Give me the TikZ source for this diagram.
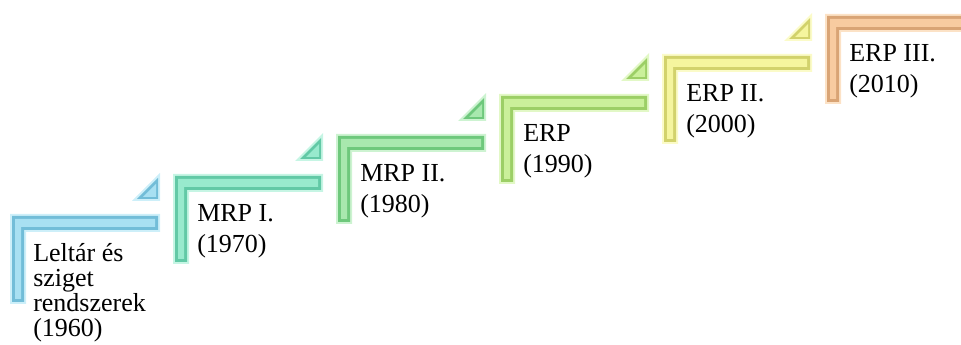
\documentclass[tikz,border=0pt]{standalone}
\usepackage{fontspec}
\setmainfont{Liberation Serif}
\definecolor{bluepale}{HTML}{CDEFF9}
\definecolor{bluedark}{HTML}{72BDD8}
\definecolor{bluebase}{HTML}{A8E0F2}
\definecolor{aquapale}{HTML}{C6F5E4}
\definecolor{aquadark}{HTML}{62C9A6}
\definecolor{aquabase}{HTML}{98EACD}
\definecolor{greenpale}{HTML}{CDF3D1}
\definecolor{greendark}{HTML}{6EC87C}
\definecolor{greenbase}{HTML}{A8E8AE}
\definecolor{limepale}{HTML}{E2F8C6}
\definecolor{limedark}{HTML}{9CCF66}
\definecolor{limebase}{HTML}{CAF09A}
\definecolor{yellowpale}{HTML}{FBFBC8}
\definecolor{yellowdark}{HTML}{D2D26C}
\definecolor{yellowbase}{HTML}{F5F59E}
\definecolor{orangepale}{HTML}{FCE2C6}
\definecolor{orangedark}{HTML}{D9A475}
\definecolor{orangebase}{HTML}{F8CBA0}
\newcommand\stepshape[4]{% #1 left, #2 top, #3 colour prefix, #4 draw triangle (1/0)
  \foreach \d/\c in {0/pale,2/dark,5/base}{
    \fill[#3\c] ({#1+\d},{#2+\d}) -- ({#1+150-\d},{#2+\d}) -- ({#1+150-\d},{#2+18-\d})
      -- ({#1+16-\d},{#2+18-\d}) -- ({#1+16-\d},{#2+90-\d}) -- ({#1+\d},{#2+90-\d}) -- cycle;
  }
  \ifnum#4=1
  \fill[#3pale] ({#1+122},{#2-13}) -- ({#1+150},{#2-13}) -- ({#1+150},{#2-41}) -- cycle;
  \fill[#3dark] ({#1+127},{#2-15}) -- ({#1+148},{#2-15}) -- ({#1+148},{#2-36}) -- cycle;
  \fill[#3base] ({#1+133},{#2-17}) -- ({#1+146},{#2-17}) -- ({#1+146},{#2-30}) -- cycle;
  \fi
}
\tikzset{lbl/.style={anchor=base west,inner sep=0pt,font=\fontsize{19.5pt}{23pt}\selectfont}}
\begin{document}
\begin{tikzpicture}[x=0.75pt,y=-0.75pt]
\useasboundingbox (0,0) rectangle (961,345);
\clip (0,0) rectangle (961,345);
\stepshape{10}{214}{blue}{1}
\stepshape{173}{174}{aqua}{1}
\stepshape{336}{134}{green}{1}
\stepshape{499}{94}{lime}{1}
\stepshape{662}{54}{yellow}{1}
\stepshape{825}{14}{orange}{0}
% step 1
\node[lbl] (a1) at (33,262) {Leltár és};
\node[lbl] (a2) at (33,287) {sziget};
\node[lbl] (a3) at (33,312) {rendszerek};
\node[lbl] (a4) at (33,337) {(1960)};
% step 2
\node[lbl] (b1) at (197,222) {MRP I.};
\node[lbl] (b2) at (197,253) {(1970)};
% step 3
\node[lbl] (c1) at (360,182) {MRP II.};
\node[lbl] (c2) at (360,213) {(1980)};
% step 4
\node[lbl] (d1) at (523,142) {ERP};
\node[lbl] (d2) at (523,173) {(1990)};
% step 5
\node[lbl] (e1) at (686,102) {ERP II.};
\node[lbl] (e2) at (686,133) {(2000)};
% step 6
\node[lbl] (f1) at (849,62) {ERP III.};
\node[lbl] (f2) at (849,93) {(2010)};
\end{tikzpicture}
\end{document}
